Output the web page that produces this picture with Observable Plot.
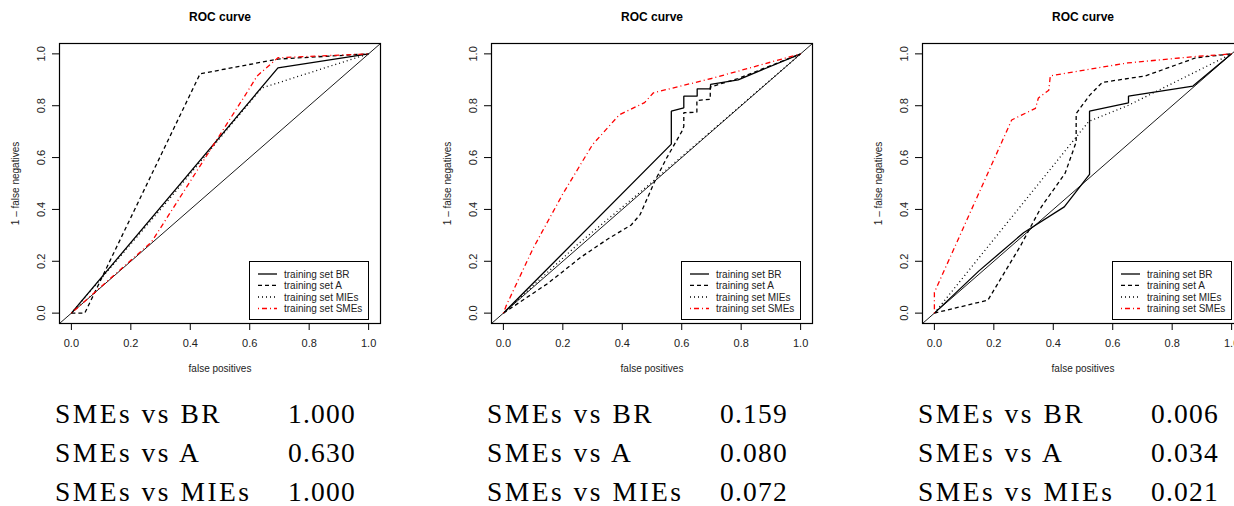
<!DOCTYPE html>
<html><head><meta charset="utf-8">
<script src="https://cdn.jsdelivr.net/npm/d3@7"></script>
<script src="https://cdn.jsdelivr.net/npm/@observablehq/plot@0.6"></script>
<style>
html,body{margin:0;padding:0;background:#fff;width:1234px;height:506px;overflow:hidden;}
#root{position:relative;width:1234px;height:506px;overflow:hidden;}
.panel{position:absolute;top:0;width:432px;height:506px;}
.panel > svg.plot{position:absolute;left:0;top:0;}
.legend{position:absolute;left:249px;top:261px;width:118px;height:57px;border:1px solid #000;background:#fff;}
.caption{position:absolute;left:0;top:380px;}
</style></head><body><div id="root"></div>
<script>
// ---------- data ----------
const series = ["BR", "A", "MIEs", "SMEs"];
const legendLabels = ["training set BR", "training set A", "training set MIEs", "training set SMEs"];
const tickValues = [0, 0.2, 0.4, 0.6, 0.8, 1.0];
const axisDomain = [-0.04, 1.04];
const titleText = "ROC curve";
const xLabel = "false positives";
const yLabel = "1 \u2013 false negatives";

// panel 1 curves: [false positives, 1 - false negatives]
const p1BR   = [[0,0],[0.695,0.946],[1,1]];
const p1A    = [[0,0],[0.045,0],[0.433,0.923],[0.695,0.98],[1,1]];
const p1MIEs = [[0,0],[0.3,0.4],[0.64,0.868],[1,1]];
const p1SMEs = [[0,0],[0.27,0.275],[0.59,0.85],[0.625,0.915],[0.695,0.985],[1,1]];

// panel 2 curves
const p2BR   = [[0,0],[0.565,0.652],[0.565,0.779],[0.607,0.792],[0.607,0.837],[0.652,0.837],[0.652,0.865],[0.697,0.865],[0.697,0.882],[0.79,0.9],[1,1]];
const p2A    = [[0,0],[0.15,0.115],[0.26,0.215],[0.35,0.285],[0.43,0.34],[0.46,0.38],[0.51,0.51],[0.55,0.6],[0.6,0.7],[0.607,0.72],[0.607,0.773],[0.651,0.775],[0.651,0.82],[0.696,0.825],[0.696,0.872],[0.79,0.905],[1,1]];
const p2MIEs = [[0,0],[0.25,0.265],[0.5,0.505],[0.75,0.752],[1,1]];
const p2SMEs = [[0,0],[0.01,0.03],[0.1,0.25],[0.2,0.46],[0.3,0.65],[0.39,0.765],[0.475,0.812],[0.505,0.85],[0.7,0.905],[1,1]];

// panel 3 curves
const p3BR   = [[0,0],[0.15,0.163],[0.3,0.31],[0.437,0.41],[0.522,0.535],[0.522,0.779],[0.653,0.811],[0.653,0.837],[0.87,0.876],[1,1]];
const p3A    = [[0,0],[0.18,0.05],[0.29,0.26],[0.36,0.41],[0.44,0.54],[0.477,0.66],[0.477,0.77],[0.522,0.84],[0.565,0.89],[0.71,0.915],[0.88,0.985],[1,1]];
const p3MIEs = [[0,0],[0.52,0.74],[0.65,0.8],[1,1]];
const p3SMEs = [[0,0],[0,0.08],[0.26,0.745],[0.34,0.79],[0.35,0.83],[0.385,0.86],[0.39,0.915],[0.44,0.925],[0.65,0.965],[0.88,0.99],[1,1]];

// comparison table below each panel
const comparisons = ["SMEs vs BR", "SMEs vs A", "SMEs vs MIEs"];
const pValues1 = ["1.000", "0.630", "1.000"];
const pValues2 = ["0.159", "0.080", "0.072"];
const pValues3 = ["0.006", "0.034", "0.021"];

// ---------- styles ----------
const styleOf = {
  BR:   {stroke: "#000", dash: null,      width: 1.3},
  A:    {stroke: "#000", dash: "4,3",     width: 1.3},
  MIEs: {stroke: "#000", dash: "1,3",     width: 1.3},
  SMEs: {stroke: "#ff0000", dash: "1,3,5,3", width: 1.3}
};
const sansFont = "'Liberation Sans', Arial, Helvetica, sans-serif";
const serifFont = "'Liberation Serif', 'Times New Roman', serif";
const panelLefts = [0, 432, 863];

const panels = [
  {curves: {BR: p1BR, A: p1A, MIEs: p1MIEs, SMEs: p1SMEs}, values: pValues1},
  {curves: {BR: p2BR, A: p2A, MIEs: p2MIEs, SMEs: p2SMEs}, values: pValues2},
  {curves: {BR: p3BR, A: p3A, MIEs: p3MIEs, SMEs: p3SMEs}, values: pValues3}
];

const diag = axisDomain.map(v => ({x: v, y: v}));
const fmt = d3.format(".1f");
const root = document.getElementById("root");

panels.forEach((p, i) => {
  const div = document.createElement("div");
  div.className = "panel";
  div.style.left = panelLefts[i] + "px";
  root.appendChild(div);

  const curveMarks = series.map(s => Plot.line(p.curves[s], {
    x: d => d[0], y: d => d[1],
    stroke: styleOf[s].stroke,
    strokeWidth: styleOf[s].width,
    strokeDasharray: styleOf[s].dash,
    strokeLinejoin: "miter",
    strokeLinecap: "butt",
    curve: "linear"
  }));

  const textOpts = {textAnchor: "middle", lineAnchor: "middle"};

  const chart = Plot.plot({
    width: 432, height: 380,
    marginLeft: 59, marginRight: 52, marginTop: 43, marginBottom: 57,
    x: {domain: axisDomain, axis: null},
    y: {domain: axisDomain, axis: null},
    style: {fontFamily: sansFont, fontSize: "11px", background: "transparent", color: "#000"},
    marks: [
      Plot.line(diag, {x: "x", y: "y", stroke: "#000", strokeWidth: 0.9}),
      ...curveMarks,
      Plot.frame({stroke: "#000", strokeWidth: 1.2}),
      Plot.axisX({ticks: tickValues, tickSize: 7, tickFormat: () => "", label: null, stroke: "#000"}),
      Plot.axisY({ticks: tickValues, tickSize: 7, tickFormat: () => "", label: null, stroke: "#000"}),
      Plot.text(tickValues, {...textOpts, x: d => d, text: d => fmt(d), frameAnchor: "bottom", dy: 20, fontSize: 11, fill: "#222"}),
      Plot.text(tickValues, {...textOpts, y: d => d, text: d => fmt(d), frameAnchor: "left", dx: -18, rotate: -90, fontSize: 11, fill: "#222"}),
      Plot.text([titleText], {...textOpts, text: d => d, frameAnchor: "top", dy: -26, fontSize: 12, fontWeight: "bold", fill: "#000"}),
      Plot.text([xLabel], {...textOpts, text: d => d, frameAnchor: "bottom", dy: 45.5, fontSize: 10, fill: "#222"}),
      Plot.text([yLabel], {...textOpts, text: d => d, frameAnchor: "left", dx: -44, rotate: -90, fontSize: 10, fill: "#222"})
    ]
  });
  chart.classList.add("plot");
  div.appendChild(chart);

  // legend
  const leg = document.createElement("div");
  leg.className = "legend";
  div.appendChild(leg);
  const lsvg = d3.select(leg).append("svg").attr("width", 118).attr("height", 57);
  const rowY = [12, 23.3, 35, 46.5];
  series.forEach((s, k) => {
    lsvg.append("line")
      .attr("x1", 8).attr("x2", 27).attr("y1", rowY[k]).attr("y2", rowY[k])
      .attr("stroke", styleOf[s].stroke).attr("stroke-width", styleOf[s].width)
      .attr("stroke-dasharray", styleOf[s].dash);
    lsvg.append("text")
      .attr("x", 34).attr("y", rowY[k]).attr("dy", "0.35em")
      .attr("font-family", sansFont).attr("font-size", 10).attr("fill", "#222")
      .text(legendLabels[k]);
  });

  // caption table
  const csvg = d3.select(div).append("svg").attr("class", "caption")
    .attr("width", 432).attr("height", 126);
  const baselines = [43, 82, 121];
  comparisons.forEach((c, k) => {
    csvg.append("text").attr("x", 55).attr("y", baselines[k])
      .attr("font-family", serifFont)
      .attr("font-size", 27.5).attr("letter-spacing", "2.5px").attr("fill", "#000")
      .text(c);
    csvg.append("text").attr("x", 288).attr("y", baselines[k])
      .attr("font-family", serifFont)
      .attr("font-size", 27.5).attr("letter-spacing", "1.2px").attr("fill", "#000")
      .text(p.values[k]);
  });
});
</script>
</body></html>
